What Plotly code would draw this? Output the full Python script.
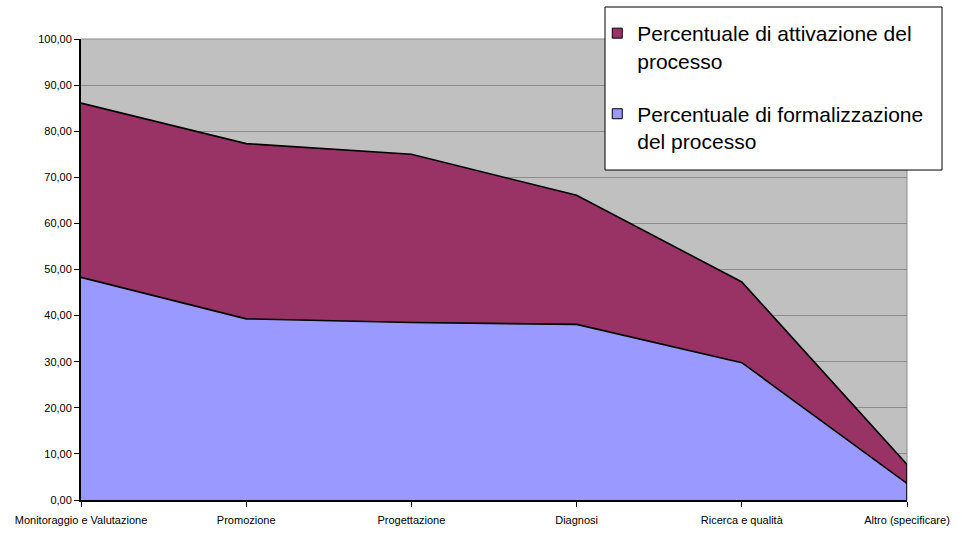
import plotly.graph_objects as go

# Process categories along the x axis
categorie = [
    "Monitoraggio e Valutazione",
    "Promozione",
    "Progettazione",
    "Diagnosi",
    "Ricerca e qualità",
    "Altro (specificare)",
]

# Percentages per process
attivazione = [86.1, 77.3, 75.0, 66.1, 47.3, 7.7]
formalizzazione = [48.3, 39.3, 38.5, 38.1, 29.8, 3.6]

nome_attivazione = "Percentuale di attivazione del<br>processo"
nome_formalizzazione = "Percentuale di formalizzazione<br>del processo"

col_attivazione = "#993366"
col_formalizzazione = "#9999FF"

fig = go.Figure()

# Overlapping (non-stacked) areas, the smaller series drawn in front
fig.add_trace(go.Scatter(
    x=categorie, y=attivazione, mode="lines", fill="tozeroy",
    fillcolor=col_attivazione, line=dict(color="black", width=1.6),
    showlegend=False, hoverinfo="skip",
))
fig.add_trace(go.Scatter(
    x=categorie, y=formalizzazione, mode="lines", fill="tozeroy",
    fillcolor=col_formalizzazione, line=dict(color="black", width=1.6),
    showlegend=False, hoverinfo="skip",
))

# Legend entries with square swatches
for nome, col, grp in [(nome_attivazione, col_attivazione, "a"),
                       (nome_formalizzazione, col_formalizzazione, "b")]:
    fig.add_trace(go.Scatter(
        x=[None], y=[None], mode="markers", name=nome, legendgroup=grp,
        marker=dict(symbol="square", size=10, color=col,
                    line=dict(color="black", width=1)),
    ))

# Closing edge of the areas on the last category
fig.add_shape(type="line", xref="x", yref="y",
              x0=categorie[-1], x1=categorie[-1], y0=0, y1=attivazione[-1],
              line=dict(color="black", width=1.6), layer="above")

# Plot frame: grey right border and top edge
fig.add_shape(type="line", xref="paper", yref="paper", x0=1, x1=1, y0=0, y1=1,
              line=dict(color="#8c8c8c", width=1), layer="below")
fig.add_shape(type="line", xref="paper", yref="paper", x0=0, x1=1, y0=1, y1=1,
              line=dict(color="#8c8c8c", width=1), layer="below")

# Legend box
fig.add_shape(type="rect", xref="paper", yref="paper",
              x0=0.6344, x1=1.0424, y0=0.7158, y1=1.0694,
              fillcolor="white", line=dict(color="black", width=1), layer="above")

fig.update_layout(
    width=962, height=535,
    margin=dict(l=81, r=55, t=39, b=35, pad=0, autoexpand=False),
    paper_bgcolor="white",
    plot_bgcolor="#C0C0C0",
    separators=",.",
    font=dict(family="Arial, Liberation Sans, sans-serif", color="black", size=11),
    showlegend=True,
    legend=dict(
        x=0.625, y=1.0564, xanchor="left", yanchor="top",
        bgcolor="rgba(0,0,0,0)", borderwidth=0,
        font=dict(size=21, color="black"),
        traceorder="grouped", tracegroupgap=23,
        valign="top", itemwidth=30,
    ),
    xaxis=dict(
        type="category", range=[0, 5], automargin=False,
        showgrid=False, zeroline=False,
        showline=True, linecolor="black", linewidth=2,
        ticks="outside", ticklen=5, tickcolor="black", tickwidth=1,
        tickfont=dict(size=11), ticklabelstandoff=4,
    ),
    yaxis=dict(
        range=[0, 100], dtick=10, tickformat=".2f", automargin=False,
        showgrid=True, gridcolor="#8c8c8c", gridwidth=1,
        zeroline=False,
        showline=True, linecolor="black", linewidth=2,
        ticks="outside", ticklen=5, tickcolor="black", tickwidth=1,
        tickfont=dict(size=11),
    ),
)

fig.write_html("out.html")
